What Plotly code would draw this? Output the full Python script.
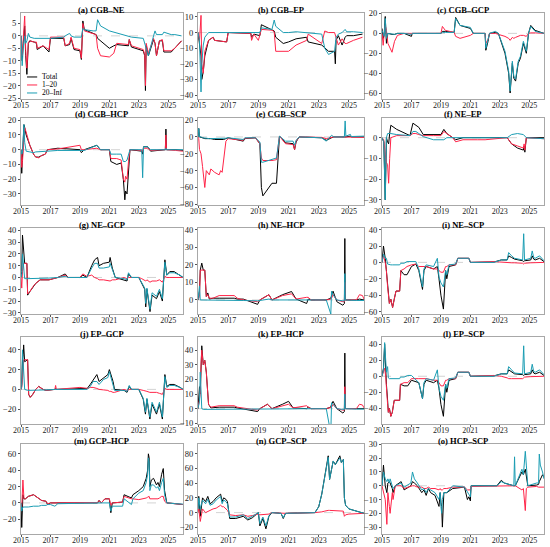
from plotly.subplots import make_subplots
import plotly.graph_objects as go

FONT = "Liberation Serif"
BLACK = "#000000"
RED = "#ff2448"
TEAL = "#1a9db3"

series_names = ["Total", "1\u201320", "20\u2013Inf"]
year_ticks = [2015, 2017, 2019, 2021, 2023, 2025]

# (a) CGB-NE
cgb_ne_x = [2015.0, 2015.08, 2015.15, 2015.25, 2015.32, 2015.4, 2015.5, 2015.6, 2015.9, 2016.05,
            2016.1, 2016.5, 2016.9, 2017.0, 2017.9, 2018.0, 2018.3, 2018.4, 2018.6, 2019.0,
            2019.1, 2019.2, 2019.3, 2019.9, 2020.1, 2020.2, 2020.4, 2021.0, 2021.3, 2021.5,
            2022.3, 2022.35, 2022.5, 2023.3, 2023.4, 2023.45, 2023.5, 2023.65, 2024.0, 2024.1,
            2024.2, 2024.4, 2024.6, 2024.7, 2025.2, 2025.45, 2025.9]
cgb_ne_total = [0, -10, -3, 4, -8, -15.5, -3, -2, -2.5, -3, -5.5, -4, -6.5, -1, -1, -4, -3.5, -1, -5.5, -6,
                -9.5, 6, 2.5, 1, 0.5, -1, -2, -5, -4, -3.5, -4, -1.5, -4.5, -6, -8, -22, -4, -8, -1.5, -3,
                -8, -2, -2, -6.5, -6.5, -5, -2]
cgb_ne_short = [0, -8, -2, 8, -6, -13, -2.5, -2, -2.5, -2.5, -5, -4, -5.5, -0.5, -0.5, -4, -3, -0.5, -5, -5.5,
                -9, 5, 2, 1, 0.5, -5, -8, -8.5, -7, -3, -3.5, -1.5, -4, -5.5, -7.5, -20, -3, -7, -1, -3,
                -8, -2, -1.5, -6, -6, -5, -2]
cgb_ne_long = [0, -12, -5, 0, -3, -2, 1, -0.5, -1, -1, -1, -1, -1, -1, -0.5, 0, 1, 0, -0.5, -0.5,
               -0.5, 3, 2.5, 2, 2, 6.5, 4, 2, 1.5, 1.2, 0, 0, -0.5, -1, -3, -5, -5, -8, 0, 2,
               0.5, 0.5, 0.5, 1.5, 0.5, 0.5, 0]

# (b) CGB-EP
cgb_ep_x = [2015.0, 2015.1, 2015.2, 2015.25, 2015.35, 2015.45, 2015.7, 2016.0, 2016.1, 2016.9,
            2017.0, 2018.5, 2018.55, 2018.7, 2019.0, 2019.1, 2019.2, 2019.9, 2020.05, 2020.15,
            2020.65, 2021.0, 2021.5, 2022.2, 2022.3, 2023.2, 2023.4, 2023.65, 2024.05, 2024.1,
            2024.15, 2024.3, 2024.55, 2024.75, 2024.85, 2025.3, 2025.9]
cgb_ep_total = [0, -8, -15, -30, -25, -15, -5, -3, -5, -6, 0, -0.5, -3, -1, -1.5, -2, 5, 1.5, 1, -3,
                -7, -6, -4, -3, -6, -8, -10, -12, -12, -20, -5, -2, -8, -3, -2, -2, -1]
cgb_ep_short = [0, -5, 11, -20, -26, -12, -5, -3, -5, -6, 0, -0.5, -5, -1, -5, -1, 2, 1.5, 0.5, -12,
                -12, -12, -8, -5, -1, -7, 1, 0, 0, -2, -2, -8, -4, -7, -7, -5, -3]
cgb_ep_long = [0, -5, -38, -20, -8, -3, 0, 0, 0, 0, 0, 0, 0, 0, 0, 0, 3, 2, 8, 4,
               0, 0, 0.5, 0, 0, -1, -10, -14, -12, -5, -3, -1, 0, 2, 0.5, 0.5, 0]

# (c) CGB-GCP
cgb_gcp_x = [2015.0, 2015.08, 2015.15, 2015.22, 2015.3, 2015.4, 2015.68, 2015.85, 2016.05, 2016.5,
             2017.0, 2017.05, 2019.0, 2019.1, 2019.3, 2019.9, 2020.0, 2020.3, 2021.0, 2021.2,
             2022.0, 2022.05, 2022.2, 2022.3, 2022.7, 2022.9, 2023.35, 2023.6, 2023.7, 2023.85,
             2023.95, 2024.07, 2024.25, 2024.4, 2024.6, 2024.8, 2024.95, 2025.1, 2025.4, 2026.0]
cgb_gcp_total = [5, -5, 0, 17, -10, 0, -1, -1, 0, 0, -3, 0, 0, 2, 2, 1, 16, 8, 5, 0,
                 0, -17, -8, 0, 1, 0, -20, -40, -60, -30, -45, -48, -30, -25, -10, -20, 0, 8, 3, 0]
cgb_gcp_short = [0, -12, 0, 8, 3, -10, -19, -8, -2, 0, 0, 0, 0, 7, 3, 1, -3, -5, -2, 0,
                 0, -10, -6, 0, 0, -1, -3, -5, -7, -4, -5, -4, -3, -2, -2, -3, 0, 0.5, 0.5, 0]
cgb_gcp_long = [3, 0, -3, 15, -5, 0, -1, -1, 0, 0, -1, 0, 0, 1, 1, 1, 15, 8, 6, 0,
                0, -15, -6, 0, 2, 0, -18, -38, -58, -28, -43, -46, -28, -23, -8, -18, 0, 7, 2, 0]

# (d) CGB-HCP
cgb_hcp_x = [2015.0, 2015.05, 2015.1, 2015.2, 2015.25, 2015.35, 2015.6, 2015.85, 2016.0, 2016.2,
             2016.4, 2016.65, 2016.8, 2017.5, 2019.0, 2019.1, 2019.3, 2020.15, 2020.4, 2021.0,
             2021.1, 2021.5, 2021.8, 2021.95, 2022.05, 2022.1, 2022.2, 2022.3, 2022.4, 2023.2,
             2023.26, 2023.32, 2023.6, 2023.8, 2024.8, 2024.84, 2024.88, 2025.5, 2026.0]
cgb_hcp_total = [0, -16, -5, 17, 15, 10, 3, -3, -5, -5, -4, -3, 0, 1, 0, -2, 0, 3, 0, 0,
                 -8, -10, -9, -20, -34, -28, -30, -10, 0, -1, -3, 2, 2, -1, 0, 14, 0, 0, -0.5]
cgb_hcp_short = [0, -12, -8, 5, 15, 12, 3, -3, -5, -5.5, -4, -3, 0, 0.5, 3, 0, 0, 1, 0, 0,
                 -6, -6, -7, -20, -22, -18, -20, -8, 0, -0.5, -1, 1, 1, -0.5, 0, 10, 0, -0.5, -1]
cgb_hcp_long = [0, -3, -2, 17, 5, -1, -1.5, -2, -1.5, -1.5, -1, -1, -1, -0.5, -0.5, -1, -0.5, 3, 0, 0,
                -3, -3, -3, -8, -8, -8, -7, -3, 0, 0, -19, 2, 2, 0, 0, 1, 0, 0, 0]

# (e) CGB-SCP
cgb_scp_x = [2015.0, 2015.05, 2015.1, 2015.2, 2015.3, 2015.45, 2015.55, 2015.75, 2015.85, 2016.1,
             2016.4, 2016.5, 2016.6, 2016.7, 2016.85, 2017.0, 2018.0, 2018.1, 2018.8, 2019.1,
             2019.2, 2019.3, 2019.9, 2020.2, 2020.4, 2020.8, 2021.3, 2021.4, 2021.5, 2021.7,
             2023.2, 2023.5, 2023.85, 2024.0, 2024.7, 2024.75, 2024.8, 2025.1, 2025.15, 2026.0]
cgb_scp_total = [0, 10, 0, -1, -1, -2, -2, -2, -2, -3, -3, -3, -3, -3, -2, -1, -5, -2, -1, -8,
                 -60, -70, -55, -55, 1, -7, -8, -15, -6, 0, -1, -4, -1, 0, 0, 0, 0, 1, 0, 0]
cgb_scp_short = [0, -2, -15, -20, -35, -60, -40, -45, -38, -42, -45, -40, -42, -25, -5, -2, -4, -1.5, -1, -8,
                 -25, -28, -28, -27, 1, -8, -9, -15, -5, 0, -0.5, -2, -0.5, 0, 0, 0, 0, 0, 0, -0.5]
cgb_scp_long = [0, 10, 0, 0, -1, -1, -1.5, -2, -2, -2, -2, -2, -2, -2, -1.5, -1, -3, -1, -1, -6,
                -30, -30, -27, -25, 1, -5, -5, -10, -4, 0, -1, -5, 2, 0, 0, 19, 1, 3, 0.5, 1]

# (f) NE-EP
ne_ep_x = [2015.0, 2015.12, 2015.22, 2015.3, 2015.38, 2015.45, 2015.52, 2015.6, 2016.0, 2016.9,
           2017.1, 2017.3, 2017.5, 2017.8, 2018.5, 2019.0, 2019.2, 2019.4, 2019.8, 2020.0,
           2020.5, 2021.5, 2022.0, 2023.5, 2023.8, 2024.2, 2024.6, 2024.65, 2024.7, 2024.8, 2026.0]
ne_ep_total = [0, -2, -30, 0, -2, -3, 2, 6, 4, 1, 7, 6, 5, 1.5, 1.5, 1.5, 4, 2, 0, -1,
               0, 0, 0, 0, -3, -5, -6, -4, -7, 0, 0]
ne_ep_short = [0, -1, -8, -12, -13, -22, -10, 0, 1, 1, 2, 2, 1.5, 1, 1, 1, 3, 2, 0, -2,
               -1, -1, -1, 0, -3, -4, -5, -3, -6, 0, -0.5]
ne_ep_long = [0, -2, -30, 0, 2, 2, 2, 2, 1.5, 1, 3, 3, 2, 0.5, -1, -1, -1, 0, 0, 0,
              0, 0, 0, 0, 1.5, 2, 1.5, 1, 1, 0, -0.5]

# (g) NE-GCP
ne_gcp_x = [2015.0, 2015.05, 2015.1, 2015.18, 2015.25, 2015.4, 2015.45, 2015.6, 2015.8, 2016.0,
            2016.3, 2016.9, 2017.5, 2018.0, 2018.2, 2019.0, 2019.2, 2019.47, 2019.8, 2020.0,
            2020.2, 2020.3, 2020.6, 2021.0, 2021.05, 2021.2, 2021.4, 2022.0, 2022.2, 2022.3,
            2022.5, 2023.0, 2023.2, 2023.4, 2023.47, 2023.55, 2023.76, 2023.9, 2024.2, 2024.4,
            2024.6, 2024.77, 2024.9, 2025.1, 2025.4, 2025.8, 2026.0]
ne_gcp_total = [0, 5, 36, 20, 12, 12, -15, -12, -8, -5, -2, -2, 0, 3, 0, 0, 2, 0, 10, 15,
                17, 10, 12, 13, 17, 8, 0, -2, -3, 3, 0, 0, -5, -10, -25, -10, -29, -15, -18, -12,
                -20, 15, 2, 5, 5, 2, 0]
ne_gcp_short = [0, -9, 5, 12, 12, 12, -14, -12, -8, -5, -2, -2, 0, 2, 0, 0, 3, 1, 2, 0,
                -1, -2, -2, -3, -3, -2, -2, 0, -1, 0, 0, 0, -1, -2, -3, -2, -4, -3, -3, -2,
                -4, 1, 0, 0, 0, 0, 0]
ne_gcp_long = [0, 3, 20, 5, -1, -1, -1, -1, -1, -1, -0.5, -0.5, 0, 1, 0, 0, 0.5, 0, 8, 12,
               12, 8, 8, 9, 12, 6, 0, -1, -2, 4, 0, 0, -4, -9, -22, -9, -27, -13, -16, -10,
               -18, 13, 2, 4, 4, 2, 0]

# (h) NE-HCP
ne_hcp_x = [2015.0, 2015.1, 2015.15, 2015.25, 2015.35, 2015.45, 2015.55, 2015.65, 2015.75, 2016.0,
            2016.4, 2017.4, 2017.6, 2018.0, 2018.95, 2019.1, 2019.5, 2019.7, 2019.9, 2020.6,
            2021.2, 2021.5, 2022.2, 2022.3, 2022.5, 2023.5, 2023.8, 2023.85, 2023.95, 2024.2,
            2024.6, 2024.7, 2024.73, 2024.76, 2025.5, 2025.7, 2025.9, 2026.0]
ne_hcp_total = [0, 5, 17, 21, 17, 17, 2, 4, 0.5, 1, 1, 1, 0.5, 0.5, -2.5, 0, 2, 3, 0, 3,
                4.8, 0.5, -2, 0.5, 0, 0, 1, 3, 5, -1, -3, -2, 35, 0, 0, 0.5, 0, 0]
ne_hcp_short = [0, 2, 17, 17, 17, 17, 2, 3, 1, 1, 2.5, 2.5, 1, 0, -1, 0, 2, 3, 0, 2.5,
                3.5, 0.5, 1.5, 1.5, 0, 0, 0.5, 1, 3, 0, -1, -1, 10, 0, 0, 3, 2.5, 0.5]
ne_hcp_long = [0, 8, 0, 0, 0, 0, 0, 0, 0, 0, -0.3, -0.3, -0.3, -0.3, -0.5, -0.3, 0, 0.5, 0, 0,
               0, 0, 0, 0, 0, 0, -8, 5, 3, 0, -0.5, -0.5, 15, 0, -0.3, -0.3, -0.3, -0.3]

# (i) NE-SCP
ne_scp_x = [2015.0, 2015.1, 2015.22, 2015.3, 2015.38, 2015.5, 2015.6, 2015.72, 2015.83, 2015.95,
            2016.2, 2016.28, 2016.5, 2016.7, 2017.0, 2017.3, 2017.5, 2017.75, 2017.85, 2018.0,
            2018.5, 2018.76, 2018.87, 2019.0, 2019.17, 2019.32, 2019.4, 2019.55, 2020.0, 2020.15,
            2020.9, 2021.0, 2022.6, 2023.1, 2023.5, 2023.6, 2023.8, 2024.0, 2024.55, 2024.62,
            2024.68, 2025.1, 2025.2, 2025.3, 2025.4, 2025.7, 2026.0]
ne_scp_total = [0, 20, 5, -10, -30, -50, -45, -55, -45, -35, -35, -10, -15, -15, -5, -2, -10, -33, -10, -5,
                -8, -5, -20, -40, -57, -10, -20, -5, -3, 5, 5, 0, 0.5, 3, 3, 8, 6, 4, 2, 1,
                2, 3, 8, 4, 3, 5, 1]
ne_scp_short = [0, 8, 0, -10, -30, -50, -45, -55, -45, -35, -35, -10, -8, -5, -3, -2, -5, -5, -5, -5,
                -8, -8, -10, -12, -12, -5, -5, -3, -3, 5, 5, 0, 1, 0, -0.5, -0.5, -0.5, -0.5, -1, -2,
                -1, -0.5, -0.5, -0.5, -0.5, -0.5, 0]
ne_scp_long = [0, 10, 5, 5, -2, -3, -3, -3, -3, -3, -3, -1, -1, 1, 1, 1, -8, -30, -8, -3,
               -5, 5, -18, -25, -30, -10, -15, -3, -2, 5, 5, 0, 0, 3, 3, 12, 8, 5, 3, 35,
               3, 5, 14, 6, 5, 8, 2]

# (j) EP-GCP
ep_gcp_x = [2015.0, 2015.05, 2015.1, 2015.15, 2015.18, 2015.25, 2015.45, 2015.52, 2015.63, 2015.8,
            2016.0, 2016.2, 2016.5, 2016.7, 2017.3, 2017.35, 2017.4, 2019.0, 2019.5, 2019.7,
            2019.9, 2020.15, 2020.3, 2020.6, 2020.9, 2021.0, 2021.1, 2021.25, 2021.35, 2022.0,
            2022.2, 2022.35, 2022.5, 2023.0, 2023.3, 2023.45, 2023.55, 2023.75, 2023.9, 2024.2,
            2024.4, 2024.6, 2024.77, 2024.9, 2025.1, 2025.4, 2025.8, 2026.0]
ep_gcp_total = [0, 5, 30, 35, 45, 28, 30, -5, -8, -5, 0, 3, 0, -1, 0, 1, 0, 1, 1, 5,
                10, 15, 8, 12, 15, 20, 15, 8, 0, -1, -3, 3, 0, 0, -10, -25, -10, -30, -15, -25,
                -15, -30, 15, 3, 5, 5, 2, 0]
ep_gcp_short = [0, 2, 10, 30, 30, 30, 30, -5, -8, -5, 0, 3, 0, -1, 0, 4, 0, 2, 1, 2,
                2, 1, 0, -0.5, -1, -2, -2, -3, -3, 0, -1, 0, 0, 0, -1, -2, -2, -3, -3, -3,
                -4, -5, 1, 0, 0, 0, 0, 0]
ep_gcp_long = [0, 3, 40, 20, 10, 0, -1, -1, -1, -1, -1, -0.5, -0.5, -0.5, 0, 0, 0, 0, 0, 3,
               8, 8, 5, 10, 12, 18, 12, 5, -1, -1, -2, 4, 0, 0, -9, -23, -9, -28, -13, -23,
               -13, -28, 13, 2, 4, 4, 2, 0]

# (k) EP-HCP
ep_hcp_x = [2015.0, 2015.1, 2015.15, 2015.2, 2015.25, 2015.35, 2015.45, 2015.55, 2015.7, 2015.85,
            2016.4, 2017.4, 2017.6, 2018.95, 2019.1, 2019.6, 2019.9, 2020.6, 2021.0, 2021.3,
            2022.2, 2022.3, 2022.5, 2023.5, 2023.8, 2023.85, 2023.95, 2024.2, 2024.6, 2024.7,
            2024.73, 2024.76, 2025.5, 2025.7, 2025.9, 2026.0]
ep_hcp_total = [0, 15, 10, 30, 43, 30, 33, 25, 3, 0.5, 1, 1, 0.5, -2, 0, 3, 0, 3, 5, 0.5,
                0, 1, 0, 0, 1, 3, 5, 0, -3, -2, 38, 0, 0, 0.5, 0, 0]
ep_hcp_short = [0, 5, 10, 30, 40, 30, 33, 25, 3, 1, 2, 2, 1, -1, 0, 3, 0, 2, 3, 0.5,
                2, 1, 0, 0, 0.5, 1, 3, 0, -1, -1, 15, 0, 0, 3, 2.5, 0.5]
ep_hcp_long = [0, 5, 25, 5, 0, -0.5, -0.5, -0.5, -0.5, -0.5, -0.5, -0.5, -0.5, -0.5, -0.5, 0, 0, 0, 0, 0,
               0, 0, 0, 0, -17, 4, 3, 0, -0.5, -0.5, 10, 0, -0.3, -0.3, -0.3, -0.3]

# (l) EP-SCP
ep_scp_x = [2015.0, 2015.1, 2015.18, 2015.25, 2015.3, 2015.38, 2015.43, 2015.5, 2015.6, 2015.7,
            2015.83, 2016.2, 2016.25, 2016.5, 2016.75, 2017.0, 2017.5, 2017.75, 2017.85, 2018.0,
            2018.5, 2018.76, 2018.87, 2019.0, 2019.17, 2019.32, 2019.4, 2019.55, 2020.0, 2020.15,
            2020.9, 2021.0, 2022.6, 2023.1, 2023.5, 2023.6, 2023.8, 2024.0, 2024.55, 2024.62,
            2024.68, 2025.1, 2025.2, 2025.3, 2025.4, 2025.7, 2026.0]
ep_scp_total = [0, 10, 40, 5, -10, -30, -45, -40, -50, -45, -30, -30, -10, -12, -12, -5, -8, -28, -10, -5,
                -8, -5, -15, -35, -50, -10, -20, -5, -3, 5, 5, 0, 0.5, 3, 3, 8, 6, 3, 2, 1,
                2, 3, 8, 4, 3, 5, 1]
ep_scp_short = [0, 5, 10, 0, -20, -35, -45, -40, -50, -45, -30, -30, -10, -8, -8, -3, -3, -3, -3, -3,
                -5, -5, -8, -12, -12, -5, -5, -3, -3, 5, 5, 0, 1, 0, -2, -3, -3, -3, -3, -2,
                -1, -0.5, -0.5, -0.5, -0.5, -0.5, 0]
ep_scp_long = [0, 8, 42, 5, 5, 12, -2, -3, -3, -3, -3, -3, -1, -1, 1, 1, -8, -28, -8, -3,
               -5, 8, -15, -25, -30, -10, -15, -3, -2, 5, 5, 0, 0, 3, 3, 12, 8, 4, 3, 38,
               3, 5, 15, 6, 5, 8, 2]

# (m) GCP-HCP
gcp_hcp_x = [2015.0, 2015.05, 2015.13, 2015.2, 2015.3, 2015.5, 2015.85, 2016.0, 2016.2, 2016.4,
             2016.7, 2016.8, 2017.0, 2017.3, 2017.5, 2020.2, 2020.3, 2020.45, 2020.7, 2021.0,
             2021.1, 2021.2, 2021.9, 2022.0, 2022.5, 2022.6, 2023.0, 2023.3, 2023.5, 2023.6,
             2023.65, 2023.7, 2023.75, 2023.85, 2024.0, 2024.2, 2024.3, 2024.4, 2024.55, 2024.66,
             2024.75, 2024.9, 2025.5, 2025.9, 2026.0]
gcp_hcp_total = [0, -30, 10, 5, 5, 8, 10, 8, 5, 3, 2, -2, 0, 0, 0, 0, 3, 0, 5, 5,
                 -12, 0, 1, 10, 6, 10, 15, 20, 30, 40, 60, 55, 20, 28, 30, 22, 25, 20, 35, 42,
                 15, 0, -1, -2, -2]
gcp_hcp_short = [0, -5, 28, 5, 5, 8, 10, 8, 5, 3, 2, -1, 0, 0, 0.5, 0.5, 3, 0, 5, 5,
                 -3, 0, 1, 8, 5, 5, 4, 5, 6, 7, 8, 8, 5, 5, 5, 5, 5, 6, 8, 8,
                 2, 0, -1, -2, -2]
gcp_hcp_long = [0, -10, -5, -5, -5, -5, -4, -4, -4, -3, -3, -2, -2, -4, -1, 0, 0, 0, 0, 0,
                -10, -4, -4, 5, -2, 5, 12, 15, 25, 35, 55, 50, 15, 22, 22, 18, 20, 15, 25, 30,
                10, 0, -1, -1.5, -1.5]

# (n) GCP-SCP
gcp_scp_x = [2015.0, 2015.05, 2015.15, 2015.3, 2015.5, 2015.65, 2015.8, 2016.0, 2016.2, 2016.5,
             2016.6, 2016.7, 2016.85, 2016.95, 2017.1, 2017.5, 2018.0, 2018.3, 2018.6, 2019.0,
             2019.1, 2019.3, 2019.5, 2019.7, 2019.9, 2020.5, 2020.65, 2020.8, 2022.75, 2023.0,
             2023.2, 2023.4, 2023.55, 2023.63, 2023.72, 2023.8, 2023.96, 2024.1, 2024.4, 2024.5,
             2024.63, 2024.7, 2024.78, 2025.0, 2025.5, 2026.0]
gcp_scp_total = [5, 22, -5, 20, 15, 22, 12, 15, 20, 25, 15, 20, 18, 15, -8, -8, -5, -10, -7, 0,
                 -18, -8, -22, -5, 0, -1, -8, -1, 0, 8, 25, 50, 65, 77, 45, 55, 70, 65, 77, 68,
                 72, 20, 10, 5, 2, -1]
gcp_scp_short = [0, 5, -12, 5, 0, 2, 3, 5, 6, 10, 8, 8, 5, 3, -3, -4, -3, -5, -4, -2,
                 -3, -3, -3, -2, 0, -1, -1, -1, 0, 0, 1, 2, 3, 3, 3, 3, 3, 3, 3, 2,
                 2, -5, -3, -2, -1, -1]
gcp_scp_long = [5, 20, 5, 17, 12, 18, 10, 12, 17, 22, 12, 17, 15, 12, -6, -6, -3, -8, -5, 0,
                -15, -6, -18, -4, 0, -1, -7, -1, 0, 8, 25, 50, 65, 75, 45, 55, 70, 65, 74, 68,
                72, 20, 10, 5, 2, -1]

# (o) HCP-SCP
hcp_scp_x = [2015.0, 2015.1, 2015.22, 2015.33, 2015.4, 2015.5, 2015.55, 2015.7, 2015.75, 2015.9,
             2016.3, 2016.5, 2016.96, 2017.07, 2017.2, 2017.4, 2017.7, 2017.85, 2018.0, 2018.15,
             2018.3, 2018.6, 2018.87, 2018.95, 2019.0, 2019.05, 2019.1, 2019.2, 2019.4, 2019.8,
             2020.6, 2020.8, 2020.9, 2021.0, 2021.05, 2022.8, 2023.1, 2023.3, 2023.95, 2024.0,
             2024.05, 2024.5, 2024.6, 2024.73, 2024.8, 2024.9, 2025.5, 2025.63, 2025.68, 2025.75,
             2025.9, 2026.0]
hcp_scp_total = [0, 15, 0, -5, 2, 3, 2, -2, -5, 0, 3, -3, 0, 3, 2, 0, -5, -3, -7, -2,
                 -5, -7, -15, -5, -12, -15, -30, -5, -5, -2, -1, -10, -8, -11, 0, 0, 4, 2, 0, 0,
                 0, 10, 8, 12, 5, 0, 0.5, 1, 3, 5, 8, 6]
hcp_scp_short = [0, -5, -10, -28, -5, -15, -20, -5, -10, 0, 0, -2, 0, 0, 0, -1, -1, -2, -2, -1,
                 -2, -2, -3, -2, -3, -3, -3, -2, -2, -1, -1, -3, -3, -3, -0.5, -0.5, 0, 0, 0, 0,
                 0, -3, -2, -18, -2, -1, -0.5, -1, -1, -1, -1, -1]
hcp_scp_long = [0, 10, 5, 3, 5, 2, 5, 0, -2, 0, 2, -1, 2, 10, 5, 2, -3, -2, -5, -2,
                -3, -5, -10, -5, -15, -20, -10, -5, -5, 0, -1, -5, -6, -8, 0, 0, 3, 2, 0, 21,
                0, 12, 8, 25, 15, 0, 2, 2, 23, 15, 10, 5]

# title, x, series, y range, y tick step
panels = [
    ("(a) CGB\u2013NE", cgb_ne_x, cgb_ne_total, cgb_ne_short, cgb_ne_long, [-25.4, 9.2], 5),
    ("(b) CGB\u2013EP", cgb_ep_x, cgb_ep_total, cgb_ep_short, cgb_ep_long, [-42.5, 12.5], 10),
    ("(c) CGB\u2013GCP", cgb_gcp_x, cgb_gcp_total, cgb_gcp_short, cgb_gcp_long, [-66, 20.5], 20),
    ("(d) CGB\u2013HCP", cgb_hcp_x, cgb_hcp_total, cgb_hcp_short, cgb_hcp_long, [-37.5, 21.5], 10),
    ("(e) CGB\u2013SCP", cgb_scp_x, cgb_scp_total, cgb_scp_short, cgb_scp_long, [-80.8, 22.5], 20),
    ("(f) NE\u2013EP", ne_ep_x, ne_ep_total, ne_ep_short, ne_ep_long, [-32.5, 9.5], 10),
    ("(g) NE\u2013GCP", ne_gcp_x, ne_gcp_total, ne_gcp_short, ne_gcp_long, [-31, 42], 10),
    ("(h) NE\u2013HCP", ne_hcp_x, ne_hcp_total, ne_hcp_short, ne_hcp_long, [-8, 41], 10),
    ("(i) NE\u2013SCP", ne_scp_x, ne_scp_total, ne_scp_short, ne_scp_long, [-63, 42], 20),
    ("(j) EP\u2013GCP", ep_gcp_x, ep_gcp_total, ep_gcp_short, ep_gcp_long, [-35, 53], 20),
    ("(k) EP\u2013HCP", ep_hcp_x, ep_hcp_total, ep_hcp_short, ep_hcp_long, [-10.5, 49], 10),
    ("(l) EP\u2013SCP", ep_scp_x, ep_scp_total, ep_scp_short, ep_scp_long, [-59.6, 49], 20),
    ("(m) GCP\u2013HCP", gcp_hcp_x, gcp_hcp_total, gcp_hcp_short, gcp_hcp_long, [-38, 72], 20),
    ("(n) GCP\u2013SCP", gcp_scp_x, gcp_scp_total, gcp_scp_short, gcp_scp_long, [-29, 93], 20),
    ("(o) HCP\u2013SCP", hcp_scp_x, hcp_scp_total, hcp_scp_short, hcp_scp_long, [-35, 30.3], 10),
]

W, H = 550, 547
col_px = [(21, 183), (198, 364), (382, 544)]
row_px = [(13, 99), (118, 205), (228, 314), (337, 424), (444, 534)]

fig = make_subplots(rows=5, cols=3)
colors = [BLACK, RED, TEAL]

for i, (title, xs, tot, short, long_, yr, step) in enumerate(panels):
    r, c = divmod(i, 3)
    for name, ys, color in zip(series_names, (tot, short, long_), colors):
        fig.add_trace(go.Scatter(x=xs, y=ys, mode="lines", name=name,
                                 line=dict(color=color, width=1), showlegend=False),
                      row=r + 1, col=c + 1)
    n = "" if i == 0 else str(i + 1)
    x0, x1 = col_px[c]
    top, bot = row_px[r]
    fig.layout["xaxis" + n].update(
        domain=[x0 / W, x1 / W], range=[2015, 2026],
        tickvals=year_ticks, ticktext=[str(y) for y in year_ticks],
        ticklabelstandoff=-4, tickfont=dict(family=FONT, size=8, color="#222"))
    fig.layout["yaxis" + n].update(
        domain=[1 - bot / H, 1 - top / H], range=yr, dtick=step, tick0=0)
    fig.add_shape(type="line", xref="x" + n + " domain", yref="y" + n,
                  x0=0, x1=1, y0=0, y1=0, layer="below",
                  line=dict(color="#c8c8c8", width=0.8, dash="dash"))
    fig.add_annotation(text="<b>" + title + "</b>", xref="x" + n + " domain", yref="y" + n + " domain",
                       x=0.5, y=1, yanchor="bottom", yshift=-2.5, borderpad=0, showarrow=False,
                       font=dict(family=FONT, size=8.5, color="#000"))

axis_style = dict(showline=True, linecolor="#a8a8a8", linewidth=1, mirror=True,
                  ticks="outside", ticklen=2, tickwidth=0.8, tickcolor="#555",
                  showgrid=False, zeroline=False, automargin=False)
fig.update_xaxes(**axis_style)
fig.update_yaxes(tickfont=dict(family=FONT, size=8.5, color="#222"), **axis_style)

# legend drawn inside panel (a)
legend_rows = [0.256, 0.163, 0.07]
for name, color, yy in zip(series_names, colors, legend_rows):
    fig.add_shape(type="line", xref="x domain", yref="y domain",
                  x0=0.037, x1=0.1, y0=yy, y1=yy, line=dict(color=color, width=1))
    fig.add_annotation(text=name, xref="x domain", yref="y domain", x=0.12, y=yy,
                       xanchor="left", yanchor="middle", showarrow=False,
                       font=dict(family=FONT, size=7.5, color="#000"))

fig.update_layout(width=W, height=H, margin=dict(l=0, r=0, t=0, b=0),
                  paper_bgcolor="white", plot_bgcolor="white",
                  font=dict(family=FONT, size=8.5), showlegend=False)

# the page body has a default 8px margin; drop it so the figure sits at the origin
fig.write_html("out.html", config={"displayModeBar": False},
               post_script="document.body.style.margin='0';")
